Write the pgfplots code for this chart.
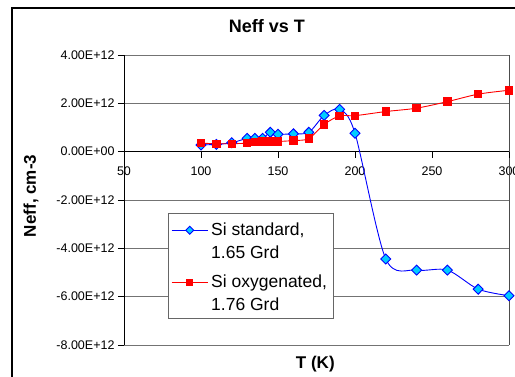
\documentclass[border=0pt]{standalone}
\usepackage{fontspec}
\setmainfont{Liberation Sans}
\usepackage{pgfplots}
\pgfplotsset{compat=1.18}
\definecolor{lineblue}{RGB}{0,0,255}
\definecolor{fillcyan}{RGB}{0,204,255}
\definecolor{linered}{RGB}{255,0,0}
\begin{document}
\begin{tikzpicture}
\useasboundingbox (0,0) rectangle (515pt,377pt);
\draw[line width=1.3pt] (12pt,-20pt) |- (540pt,369pt);
\begin{axis}[
  at={(124pt,32pt)}, anchor=south west,
  scale only axis, width=385pt, height=290pt,
  xmin=50, xmax=300, ymin=-8e12, ymax=4e12,
  axis x line=middle, axis y line=left,
  axis line style={-, black, line width=0.8pt},
  hide obscured x ticks=false, hide obscured y ticks=false,
  tick align=outside, major tick length=6pt,
  tick style={black, line width=0.8pt},
  xtick={50,100,150,200,250,300},
  ytick={-8e12,-6e12,-4e12,-2e12,0,2e12,4e12},
  yticklabels={-8.00E+12,-6.00E+12,-4.00E+12,-2.00E+12,0.00E+00,2.00E+12,4.00E+12},
  scaled y ticks=false,
  /pgf/number format/assume math mode=true,
  ticklabel style={font=\fontsize{12.5}{14}\selectfont},
  xticklabel style={yshift=-6pt},
  ymajorgrids, major grid style={black!55, line width=0.8pt},
  extra x ticks={300}, extra x tick labels={},
  extra x tick style={xmajorgrids=true, major grid style={black!70, line width=0.8pt}},
  clip=false,
  title={Neff vs T},
  title style={at={(axis description cs:0.371,1.078)}, anchor=center, font=\bfseries\fontsize{18}{20}\selectfont},
  xlabel={T (K)},
  xlabel style={at={(axis description cs:0.497,-0.0655)}, anchor=center, font=\bfseries\fontsize{17}{19}\selectfont},
  ylabel={Neff, cm-3},
  ylabel style={at={(axis description cs:-0.2416,0.514)}, anchor=center, font=\bfseries\fontsize{17}{19}\selectfont},
  legend style={at={(axis description cs:0.114,0.455)}, anchor=north west,
    draw=black!60, fill=white, line width=0.8pt, inner xsep=3pt, inner ysep=5.5pt,
    font=\fontsize{17.5}{20}\selectfont, row sep=0pt,
    nodes={inner xsep=3pt, inner ysep=2.5pt, text height=14pt, text depth=}},
  legend cell align=left,
  legend image code/.code={\draw[mark repeat=2,mark phase=2,#1,every mark/.append style={scale=0.8}] plot coordinates {(0pt,0pt) (18pt,0pt) (36pt,0pt)};},
]
\addplot[color=lineblue, line width=0.9pt, smooth, mark=diamond*, mark size=5pt,
  mark options={xscale=1.33, fill=fillcyan, draw=lineblue, line width=0.9pt}] table {
x y
100 0.28e12
110 0.30e12
120 0.37e12
130 0.55e12
135 0.55e12
140 0.55e12
145 0.80e12
150 0.72e12
160 0.74e12
170 0.80e12
180 1.50e12
190 1.75e12
200 0.76e12
220 -4.44e12
240 -4.90e12
260 -4.90e12
280 -5.69e12
300 -5.96e12
};
\addlegendentry{Si standard,\rule[-3.8pt]{0pt}{1pt}}
\addlegendimage{empty legend}
\addlegendentry{1.65 Grd\rule[-10.3pt]{0pt}{1pt}}
\addplot[color=linered, line width=0.9pt, smooth, mark=square*, mark size=3.7pt,
  mark options={fill=linered, draw=linered}] table {
x y
100 0.35e12
110 0.33e12
120 0.33e12
130 0.35e12
135 0.40e12
140 0.42e12
145 0.42e12
150 0.42e12
160 0.46e12
170 0.54e12
180 1.13e12
190 1.48e12
200 1.49e12
220 1.66e12
240 1.80e12
260 2.07e12
280 2.38e12
300 2.54e12
};
\addlegendentry{Si oxygenated,\rule[-3.8pt]{0pt}{1pt}}
\addlegendimage{empty legend}
\addlegendentry{1.76 Grd}
\end{axis}
\end{tikzpicture}
\end{document}
